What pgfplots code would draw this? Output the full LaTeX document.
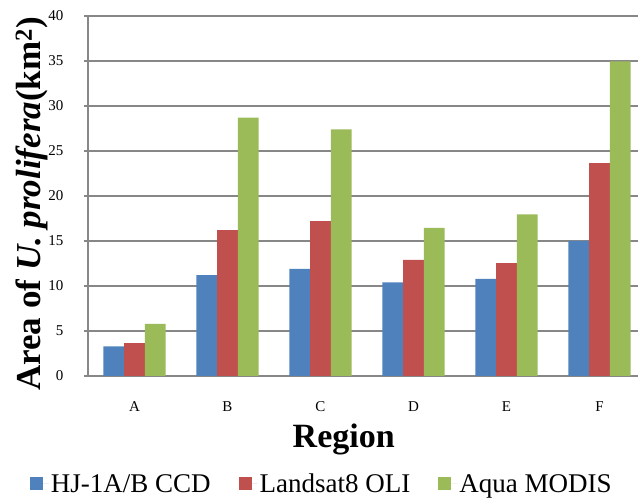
\documentclass[border=0pt]{standalone}
\usepackage{fontspec}
\setmainfont{Liberation Serif}
\usepackage{pgfplots}
\pgfplotsset{compat=1.18}
\definecolor{cA}{HTML}{4F81BD}
\definecolor{cB}{HTML}{C0504D}
\definecolor{cC}{HTML}{9BBB59}
\definecolor{gr}{HTML}{878787}
\pgfplotsset{sq legend/.style={legend image code/.code={\fill[##1] (0pt,-6pt) rectangle (13pt,7pt); \path (13pt,0pt) -- (19pt,0pt);}}}
\begin{document}
\begin{tikzpicture}
\useasboundingbox (0,0) rectangle (638pt,500pt);
\begin{axis}[
 at={(88pt,124pt)}, anchor=south west,
 scale only axis, width=550pt, height=360pt,
 ymin=0, ymax=40, ytick={0,5,...,40},
 xmin=-0.5, xmax=5.414,
 xtick={0,...,5}, xticklabels={A,B,C,D,E,F},
 major x tick style={draw=none},
 extra x ticks={-0.5,0.5,1.5,2.5,3.5,4.5},
 extra x tick labels={},
 extra x tick style={grid=none, major tick length=5pt, tick style={draw=gr, line width=1.5pt}},
 axis x line*=bottom, axis y line*=left,
 axis line style={draw=gr, line width=2pt},
 ymajorgrids, grid style={draw=gr, line width=1.4pt},
 major y tick style={draw=gr, line width=1.5pt},
 major tick length=4pt,
 tick align=outside,
 /pgf/number format/assume math mode=true,
 yticklabel style={font=\fontsize{15}{18}\selectfont, xshift=-17pt},
 xticklabel style={font=\fontsize{15}{18}\selectfont, yshift=-18pt},
 ybar=0pt, bar width=20.7pt,
 ylabel={\textbf{Area of \textit{U. prolifera}(km\textsuperscript{2})}},
 ylabel style={at={(axis description cs:-0.0855,0.478)}, anchor=base, font=\fontsize{35}{38}\selectfont},
 xlabel={\textbf{Region}},
 xlabel style={at={(axis description cs:0.465,-0.2)}, anchor=base, font=\fontsize{34}{38}\selectfont},
 legend style={at={(axis description cs:0.425,-0.30)}, anchor=center, draw=none, fill=none,
   legend columns=3, font=\fontsize{27}{30}\selectfont,
   /tikz/every even column/.append style={column sep=26pt}},
]
\addplot[fill=cA, draw=none, sq legend] coordinates {(0,3.3) (1,11.2) (2,11.9) (3,10.4) (4,10.8) (5,15.0)};
\addplot[fill=cB, draw=none, sq legend] coordinates {(0,3.65) (1,16.2) (2,17.2) (3,12.9) (4,12.55) (5,23.65)};
\addplot[fill=cC, draw=none, sq legend] coordinates {(0,5.8) (1,28.7) (2,27.4) (3,16.45) (4,17.95) (5,34.95)};
\legend{HJ-1A/B CCD, Landsat8 OLI, Aqua MODIS}
\end{axis}
\end{tikzpicture}
\end{document}
